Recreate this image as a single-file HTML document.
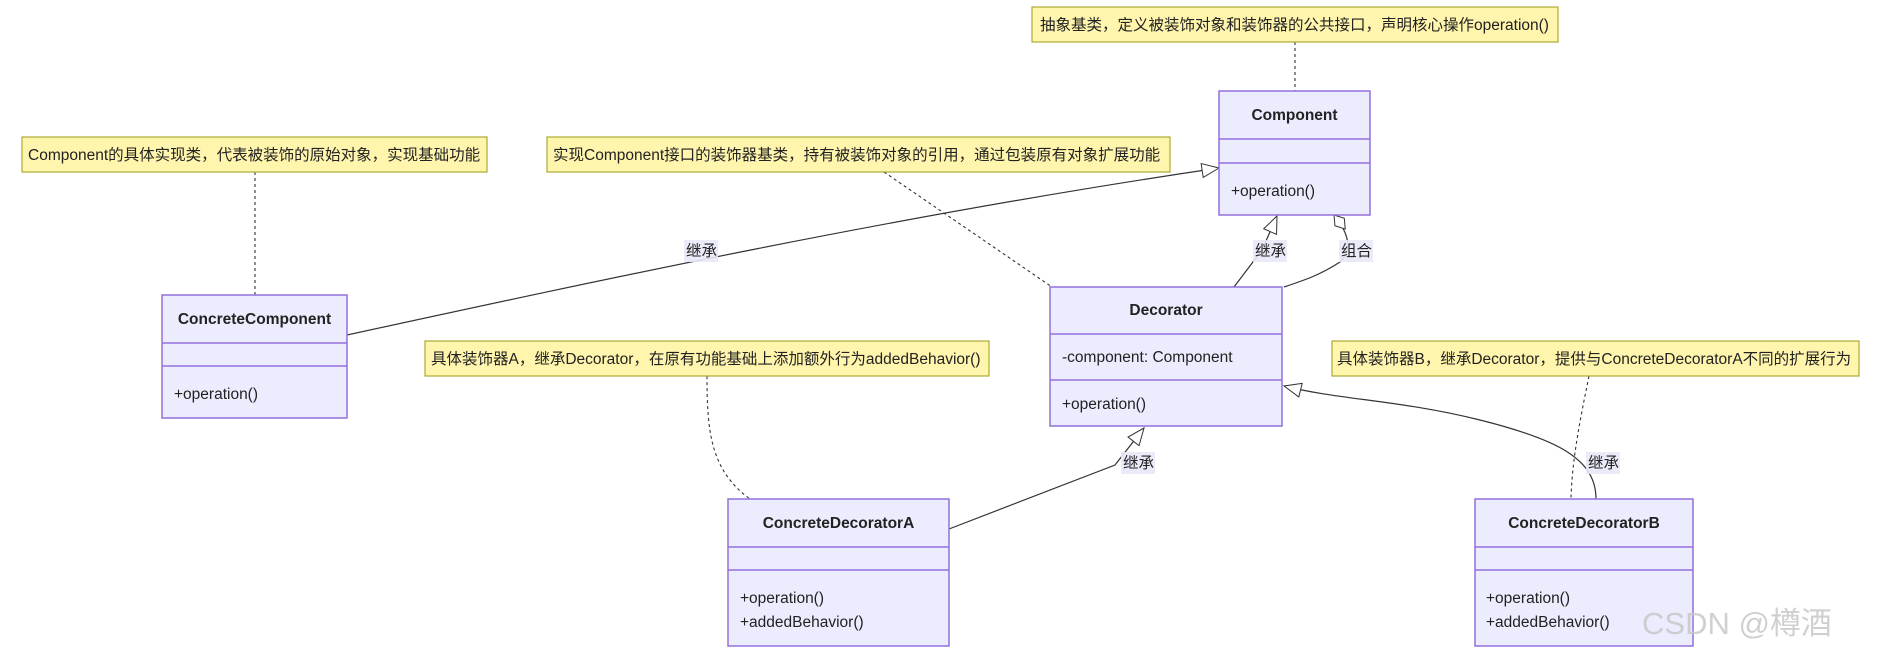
<!DOCTYPE html>
<html><head><meta charset="utf-8"><style>
body{margin:0;background:#fff}
svg{display:block}
text{font-family:"Liberation Sans","Noto Sans CJK SC",sans-serif;font-size:15.5px;fill:#222}
.b{font-weight:bold}
.cls{fill:#ECECFF;stroke:#9370DB;stroke-width:1.5}
.div{stroke:#9370DB;stroke-width:1.5}
.note{fill:#FFF5AD;stroke:#AAAA33;stroke-width:1.2}
.e{fill:none;stroke:#333;stroke-width:1.2}
.d{fill:none;stroke:#333;stroke-width:1.1;stroke-dasharray:3,3}
.lb{fill:#E8E8F8;opacity:0.9}
</style></head><body>
<svg width="1882" height="654" viewBox="0 0 1882 654" xmlns="http://www.w3.org/2000/svg">
<defs>
<marker id="tri" markerWidth="20" markerHeight="16" refX="18" refY="8" orient="auto" markerUnits="userSpaceOnUse">
<path d="M1,1 L18,8 L1,15 Z" fill="#fff" stroke="#333" stroke-width="1"/></marker>
<marker id="dia" markerWidth="24" markerHeight="14" refX="1" refY="7" orient="auto" markerUnits="userSpaceOnUse">
<path d="M1,7 L10,1 L19,7 L10,13 Z" fill="#fff" stroke="#333" stroke-width="1"/></marker>
</defs>

<!-- dashed note links -->
<line class="d" x1="1295" y1="42" x2="1295" y2="91"/>
<line class="d" x1="255" y1="172" x2="255" y2="295"/>
<line class="d" x1="884" y1="172" x2="1052" y2="287"/>
<path class="d" d="M707,376 C707,430 710,470 750,499"/>
<path class="d" d="M1589,376 C1580,420 1572,460 1571,499"/>

<!-- edges -->
<path class="e" d="M347,335 C600,280 900,215 1219,168" marker-end="url(#tri)"/>
<path class="e" d="M1234,287 L1262,250 L1277,216" marker-end="url(#tri)"/>
<path class="e" d="M1334,215 C1350,235 1352,250 1340,262 C1320,275 1305,280 1284,287" marker-start="url(#dia)" transform=""/>
<path class="e" d="M949,529 L1115,465 L1144,428" marker-end="url(#tri)"/>
<path class="e" d="M1596,499 C1596,460 1560,440 1480,420 C1400,400 1340,400 1284,386" marker-end="url(#tri)"/>

<!-- labels -->
<rect class="lb" x="684" y="240" width="34" height="22"/><text x="686" y="256">继承</text>
<rect class="lb" x="1253" y="240" width="34" height="22"/><text x="1255" y="256">继承</text>
<rect class="lb" x="1339" y="240" width="34" height="22"/><text x="1341" y="256">组合</text>
<rect class="lb" x="1121" y="452" width="34" height="22"/><text x="1123" y="468">继承</text>
<rect class="lb" x="1586" y="452" width="34" height="22"/><text x="1588" y="468">继承</text>

<!-- notes -->
<rect class="note" x="1032" y="7" width="526" height="35"/>
<text x="1040" y="30">抽象基类，定义被装饰对象和装饰器的公共接口，声明核心操作operation()</text>
<rect class="note" x="22" y="137" width="465" height="35"/>
<text x="28" y="160">Component的具体实现类，代表被装饰的原始对象，实现基础功能</text>
<rect class="note" x="547" y="137" width="623" height="35"/>
<text x="553" y="160">实现Component接口的装饰器基类，持有被装饰对象的引用，通过包装原有对象扩展功能</text>
<rect class="note" x="425" y="341" width="564" height="35"/>
<text x="431" y="364">具体装饰器A，继承Decorator，在原有功能基础上添加额外行为addedBehavior()</text>
<rect class="note" x="1332" y="341" width="527" height="35"/>
<text x="1337" y="364">具体装饰器B，继承Decorator，提供与ConcreteDecoratorA不同的扩展行为</text>

<!-- Component -->
<rect class="cls" x="1219" y="91" width="151" height="124"/>
<line class="div" x1="1219" y1="139" x2="1370" y2="139"/>
<line class="div" x1="1219" y1="163" x2="1370" y2="163"/>
<text class="b" x="1294.5" y="120" text-anchor="middle">Component</text>
<text x="1231" y="196">+operation()</text>

<!-- ConcreteComponent -->
<rect class="cls" x="162" y="295" width="185" height="123"/>
<line class="div" x1="162" y1="343" x2="347" y2="343"/>
<line class="div" x1="162" y1="366" x2="347" y2="366"/>
<text class="b" x="254.5" y="324" text-anchor="middle">ConcreteComponent</text>
<text x="174" y="399">+operation()</text>

<!-- Decorator -->
<rect class="cls" x="1050" y="287" width="232" height="139"/>
<line class="div" x1="1050" y1="334" x2="1282" y2="334"/>
<line class="div" x1="1050" y1="380" x2="1282" y2="380"/>
<text class="b" x="1166" y="315" text-anchor="middle">Decorator</text>
<text x="1062" y="362">-component: Component</text>
<text x="1062" y="409">+operation()</text>

<!-- ConcreteDecoratorA -->
<rect class="cls" x="728" y="499" width="221" height="147"/>
<line class="div" x1="728" y1="547" x2="949" y2="547"/>
<line class="div" x1="728" y1="570" x2="949" y2="570"/>
<text class="b" x="838.5" y="528" text-anchor="middle">ConcreteDecoratorA</text>
<text x="740" y="603">+operation()</text>
<text x="740" y="627">+addedBehavior()</text>

<!-- ConcreteDecoratorB -->
<rect class="cls" x="1475" y="499" width="218" height="147"/>
<line class="div" x1="1475" y1="547" x2="1693" y2="547"/>
<line class="div" x1="1475" y1="570" x2="1693" y2="570"/>
<text class="b" x="1584" y="528" text-anchor="middle">ConcreteDecoratorB</text>
<text x="1486" y="603">+operation()</text>
<text x="1486" y="627">+addedBehavior()</text>

<text x="1642" y="634" style="font-size:31px;fill:#c8c8c8;opacity:0.85">CSDN @樽酒</text>
</svg>
</body></html>
